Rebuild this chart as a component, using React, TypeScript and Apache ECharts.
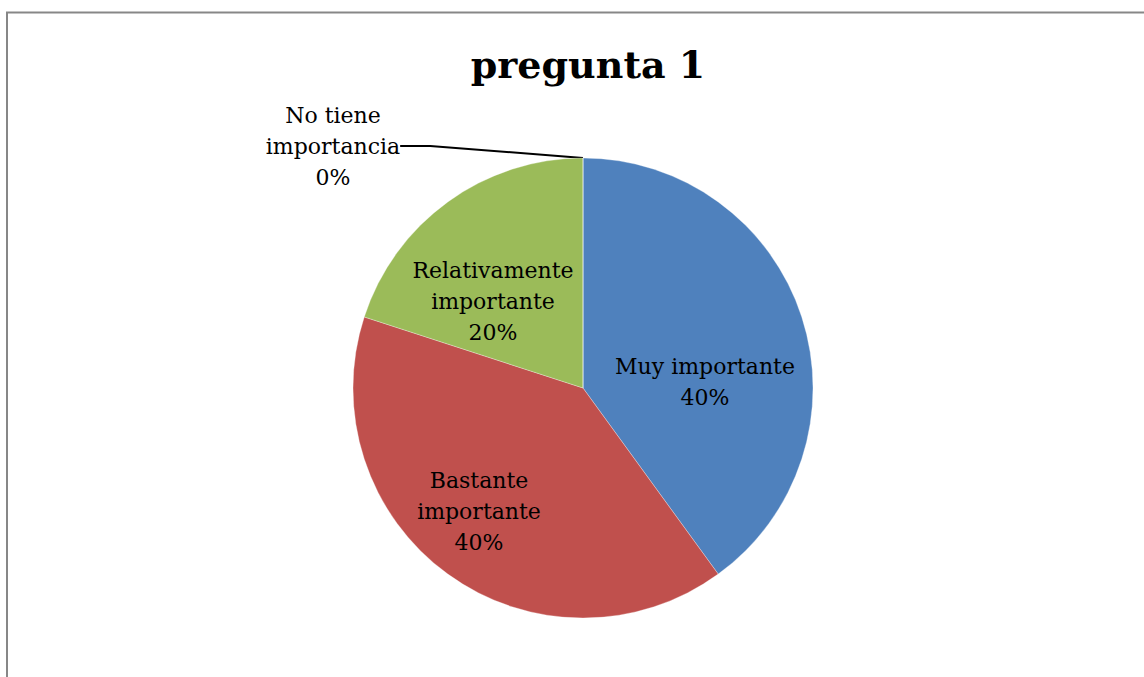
import React, { useEffect, useRef } from "react";
import * as echarts from "echarts";

const categories = ["Muy importante", "Bastante importante", "Relativamente importante", "No tiene importancia"];
const labelTexts = ["Muy importante", "Bastante\nimportante", "Relativamente\nimportante", "No tiene\nimportancia"];
const values = [40, 40, 20, 0];
const colors = ["#4F81BD", "#C0504D", "#9BBB59", "#8064A2"];
const titleText = "pregunta 1";

// label block centres (layout only)
const labelPos = [
  [705, 382],
  [479, 511],
  [493, 301],
  [333, 146],
];

export default function App() {
  const ref = useRef<HTMLDivElement>(null);
  useEffect(() => {
    document.body.style.margin = "0";
    const chart = echarts.init(ref.current!, null, { renderer: "svg" });
    const font = "'DejaVu Serif', 'Liberation Serif', serif";
    chart.setOption({
      animation: false,
      backgroundColor: "#ffffff",
      title: {
        text: titleText,
        left: 583,
        textAlign: "center",
        top: 40,
        textStyle: { fontFamily: font, fontWeight: "bold", fontSize: 38, color: "#000" },
      },
      graphic: [
        {
          type: "rect",
          shape: { x: 7, y: 12.5, width: 1160, height: 720 },
          style: { fill: "none", stroke: "#878787", lineWidth: 2 },
          silent: true,
        },
      ],
      series: [
        {
          type: "pie",
          center: [583, 388],
          radius: 230,
          startAngle: 90,
          clockwise: true,
          avoidLabelOverlap: false,
          itemStyle: { borderColor: "rgba(255,255,255,0.6)", borderWidth: 0.5 },
          label: {
            position: "inside",
            fontFamily: font,
            fontSize: 22,
            lineHeight: 31,
            color: "#000",
            align: "center",
            formatter: (p: any) => `${labelTexts[p.dataIndex]}\n${p.percent.toFixed(0)}%`,
          },
          labelLine: { show: false },
          labelLayout: (p: any) => ({
            x: labelPos[p.dataIndex][0],
            y: labelPos[p.dataIndex][1],
            align: "center",
            verticalAlign: "middle",
          }),
          data: categories.map((c, i) => ({
            name: c,
            value: values[i],
            itemStyle: { color: colors[i] },
            ...(values[i] === 0
              ? {
                  label: { position: "outside" },
                  labelLine: { show: true, lineStyle: { color: "#000", width: 2 } },
                }
              : {}),
          })),
        },
      ],
    });
    return () => chart.dispose();
  }, []);
  return <div ref={ref} style={{ width: 1144, height: 677 }} />;
}
